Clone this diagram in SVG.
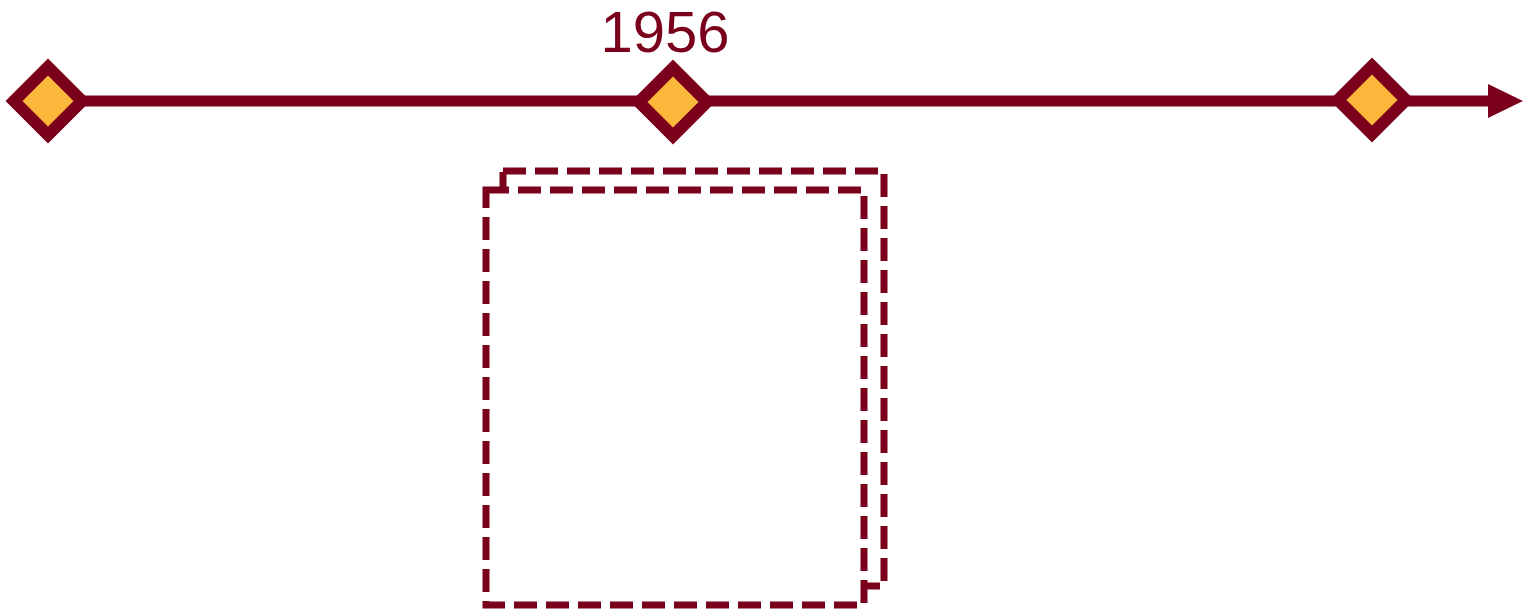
<svg xmlns="http://www.w3.org/2000/svg" width="1527" height="613" viewBox="0 0 1527 613">
<style>
.dia{fill:#fbb83d;stroke:#7b001c;stroke-width:12;stroke-linejoin:miter}
.box{fill:#ffffff;stroke:#7b001c;stroke-width:7;stroke-dasharray:23 9}
.lbl{font-family:"Liberation Sans",sans-serif;font-size:58px;fill:#7b001c}
</style>
<defs>
<marker id="arr" viewBox="0 0 36 36" refX="0" refY="18" markerWidth="36" markerHeight="36" markerUnits="userSpaceOnUse" orient="auto">
<path d="M0,1 L35,18 L0,35 Z" fill="#7b001c"/>
</marker>
</defs>
<g id="connectors">
<line x1="48" y1="101" x2="1488" y2="101" stroke="#7b001c" stroke-width="11" marker-end="url(#arr)"/>
</g>
<g id="box-back"><rect class="box" x="503" y="171" width="381" height="415"/></g>
<g id="box-front"><rect class="box" x="486" y="190" width="378" height="415"/></g>
<g id="m1"><path class="dia" d="M48,67 L82,101 L48,135 L14,101 Z"/></g>
<g id="m2"><path class="dia" d="M673,68 L707,102 L673,136 L639,102 Z"/></g>
<g id="m3"><path class="dia" d="M1372,66 L1406,100 L1372,134 L1338,100 Z"/></g>
<g id="label"><text class="lbl" x="665" y="52" text-anchor="middle">1956</text></g>
</svg>
